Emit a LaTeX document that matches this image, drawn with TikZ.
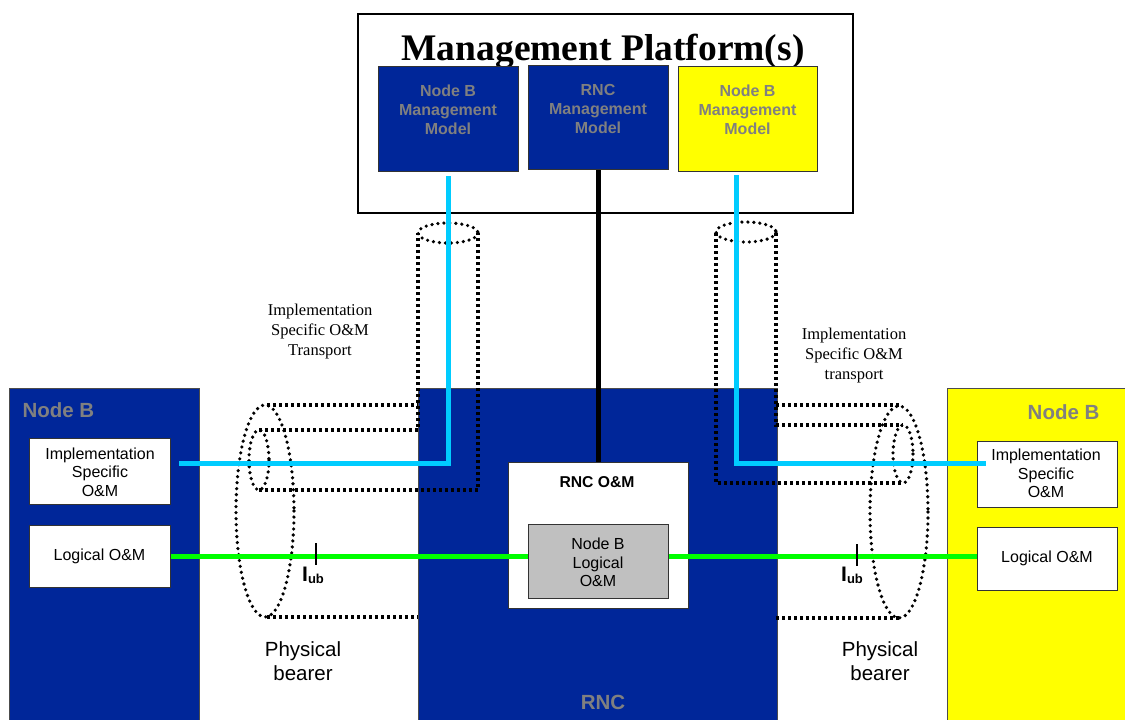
\documentclass[tikz,border=0pt]{standalone}
\usepackage{fontspec}
\setmainfont{Liberation Sans}
\newfontfamily\tms{Liberation Serif}
\definecolor{nbblue}{RGB}{0,38,153}
\definecolor{nbyel}{RGB}{255,255,0}
\definecolor{lblgray}{RGB}{128,128,128}
\definecolor{cyanl}{RGB}{0,204,255}
\definecolor{greenl}{RGB}{0,255,0}
\definecolor{boxgray}{RGB}{192,192,192}
\begin{document}
\begin{tikzpicture}[x=1pt,y=-1pt,
  box/.style={draw=black!80, line width=1.1pt, inner sep=0pt, anchor=north west},
  region/.style={draw=black!70, line width=0.8pt, inner sep=0pt, anchor=north west},
  modeltext/.style={text=lblgray, font=\fontsize{16}{19}\selectfont\bfseries, align=center},
  bodytext/.style={font=\fontsize{16}{18.5}\selectfont, align=center},
  bigtext/.style={font=\fontsize{20.5}{24}\selectfont, align=center},
  regionlabel/.style={text=lblgray, font=\fontsize{20.5}{24}\selectfont\bfseries},
  serlabel/.style={font=\tms\fontsize{16.5}{20}\selectfont, align=center},
  sqdot/.style={line width=3.2pt, dash pattern=on 3pt off 3pt},
  rddot/.style={line width=3.6pt, line cap=round, dash pattern=on 0pt off 6pt},
  cyanwire/.style={draw=cyanl, line width=5pt},
  greenwire/.style={draw=greenl, line width=5pt},
  blackwire/.style={draw=black, line width=5.5pt},
  tickmark/.style={draw=black, line width=2pt}
]
\useasboundingbox[fill=white] (0,0) rectangle (1125,720);

% regions
\node[region, fill=nbblue, minimum width=190, minimum height=335] (nbL) at (9,388) {};
\node[region, fill=nbblue, minimum width=359, minimum height=335] (rnc) at (418,388) {};
\node[region, fill=nbyel, minimum width=185, minimum height=335] (nbR) at (947,388) {};

% management platform
\node[box, line width=2pt, draw=black, fill=white, minimum width=495, minimum height=199] (mgmt) at (357,13) {};
\node[anchor=base, font=\tms\bfseries\fontsize{37.5}{40}\selectfont] (mgmttitle) at (603,60) {Management Platform(s)};
\node[box, fill=nbblue, minimum width=140, minimum height=105] (nbm1) at (378,66) {};
\node[box, fill=nbblue, minimum width=140, minimum height=104] (rncm) at (528,65) {};
\node[box, fill=nbyel, minimum width=139, minimum height=105] (nbm3) at (678,66) {};
\node[modeltext] (nbm1t) at (448,110) {Node B\\Management\\Model};
\node[modeltext] (rncmt) at (598,109) {RNC\\Management\\Model};
\node[modeltext] (nbm3t) at (747.5,110) {Node B\\Management\\Model};

% inner boxes
\node[box, fill=white, minimum width=141, minimum height=66] (impl1) at (29,438) {};
\node[bodytext] (impl1t) at (100,472) {Implementation\\Specific\\O\&M};
\node[box, fill=white, minimum width=141, minimum height=62] (log1) at (29,525) {};
\node[bodytext] (log1t) at (99.5,556) {Logical O\&M};
\node[box, fill=white, minimum width=140, minimum height=66] (impl2) at (977,441) {};
\node[bodytext] (impl2t) at (1046,473.5) {Implementation\\Specific\\O\&M};
\node[box, fill=white, minimum width=140, minimum height=63] (log2) at (977,527) {};
\node[bodytext] (log2t) at (1047,558) {Logical O\&M};
\node[box, fill=white, minimum width=180, minimum height=146] (rncom) at (508,462) {};
\node[font=\fontsize{15.7}{18}\selectfont\bfseries] (rncomt) at (597,482) {RNC O\&M};
\node[box, fill=boxgray, minimum width=140, minimum height=74] (nblog) at (528,524) {};
\node[bodytext] (nblogt) at (598,562.5) {Node B\\Logical\\O\&M};

% region labels
\node[regionlabel, anchor=west] (nbLt) at (19,410) {Node B};
\node[regionlabel, anchor=east] (nbRt) at (1103,412) {Node B};
\node[regionlabel] (rnct) at (603,702) {RNC};

% dotted transport cylinders, left
\draw[sqdot] (267,405) -- (418,405);
\draw[sqdot] (259,430) -- (418,430) -- (418,233);
\draw[sqdot] (259,490) -- (478,490) -- (478,233);
\draw[sqdot] (267,617) -- (418,617);
\draw[rddot] (448,233) ellipse [x radius=30, y radius=10];
\draw[rddot] (265,511) ellipse [x radius=29, y radius=106];
\draw[rddot] (259,460) ellipse [x radius=10, y radius=30];
% right
\draw[sqdot] (776,405) -- (899,405);
\draw[sqdot] (776,233) -- (776,425) -- (903,425);
\draw[sqdot] (716,233) -- (716,483) -- (903,483);
\draw[sqdot] (776,618) -- (899,618);
\draw[rddot] (746,232) ellipse [x radius=30, y radius=10];
\draw[rddot] (899,512) ellipse [x radius=29, y radius=106];
\draw[rddot] (903,454) ellipse [x radius=10, y radius=29];

% wires
\coordinate (gR) at (977,556);
\draw[greenwire] (log1.east) -- (log1.east -| nblog.west);
\draw[greenwire] (gR -| nblog.east) -- (gR);
\draw[blackwire] (rncm.south) -- (rncom.north);
\coordinate (cL) at (179,463);
\coordinate (cRtop) at (736,175);
\coordinate (cR) at (986,463);
\draw[cyanwire] ([yshift=-4pt]nbm1.south) |- (cL);
\draw[cyanwire] (cRtop) |- (cR);

% Iub ticks
\coordinate (t1) at (316,543);
\coordinate (t2) at (857,544);
\draw[tickmark] (t1) -- ++(0,22);
\draw[tickmark] (t2) -- ++(0,22);
\node[anchor=base west, inner sep=0pt, font=\bfseries\fontsize{21}{22}\selectfont] (iub1) at (302,581) {I\raisebox{-2pt}{\fontsize{13}{13}\selectfont ub}};
\node[anchor=base west, inner sep=0pt, font=\bfseries\fontsize{21}{22}\selectfont] (iub2) at (841,581) {I\raisebox{-2pt}{\fontsize{13}{13}\selectfont ub}};

% labels
\node[serlabel] (trL) at (320,332) {Implementation\\Specific O\&M\\Transport};
\node[serlabel] (trR) at (854,356) {Implementation\\Specific O\&M\\transport};
\node[bigtext] (pbL) at (303,661) {Physical\\bearer};
\node[bigtext] (pbR) at (880,661) {Physical\\bearer};
\end{tikzpicture}
\end{document}
